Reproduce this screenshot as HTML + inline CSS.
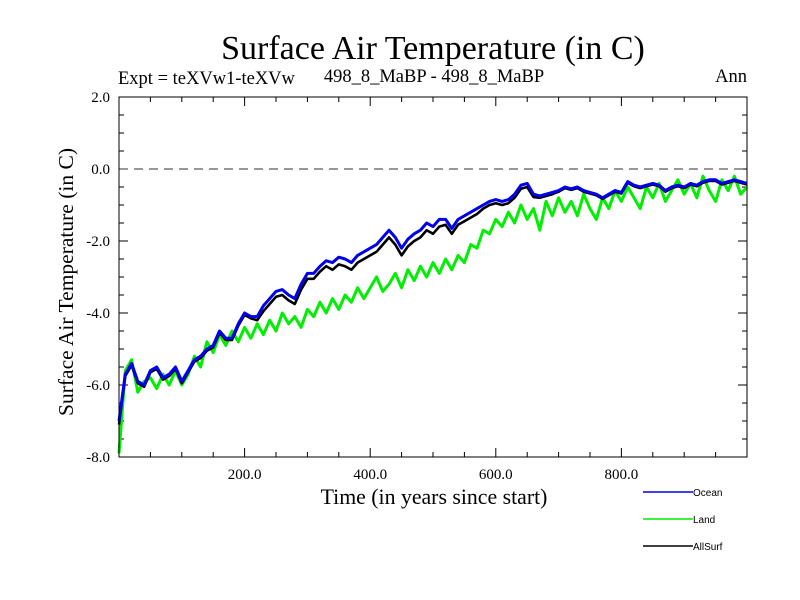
<!DOCTYPE html>
<html><head><meta charset="utf-8"><style>
body{margin:0;background:#fff}
svg{display:block}
text{font-family:"Liberation Serif",serif;fill:#000}
</style></head><body>
<svg id="chart" width="800" height="600" viewBox="0 0 800 600">
<rect width="800" height="600" fill="#fff"/>
<text x="433" y="59" font-size="34" text-anchor="middle">Surface Air Temperature (in C)</text>
<text x="118" y="84" font-size="18.5">Expt = teXVw1-teXVw</text>
<text x="434" y="82" font-size="18.5" text-anchor="middle">498_8_MaBP - 498_8_MaBP</text>
<text x="747" y="82" font-size="18.5" text-anchor="end">Ann</text>
<text transform="translate(73,282) rotate(-90)" font-size="21.5" text-anchor="middle">Surface Air Temperature (in C)</text>
<text x="434" y="504" font-size="21.8" text-anchor="middle">Time (in years since start)</text>
<g id="ticks"></g>
<g id="series"></g>
<rect x="119" y="97" width="628" height="360" fill="none" stroke="#000" stroke-width="1"/>
<g id="legend"></g>
</svg>
<script>
const years = [];
for (let y = 0; y <= 1000; y += 10) years.push(y);
const ocean = [-7.0,-5.7,-5.4,-5.9,-6.0,-5.6,-5.5,-5.8,-5.7,-5.5,
-5.9,-5.6,-5.3,-5.2,-5.0,-4.9,-4.5,-4.7,-4.7,-4.3,
-4.0,-4.1,-4.1,-3.8,-3.6,-3.4,-3.35,-3.5,-3.6,-3.2,
-2.9,-2.9,-2.7,-2.55,-2.6,-2.45,-2.5,-2.6,-2.4,-2.3,
-2.2,-2.1,-1.9,-1.7,-1.9,-2.2,-1.95,-1.8,-1.7,-1.5,
-1.6,-1.4,-1.4,-1.65,-1.4,-1.3,-1.2,-1.1,-1.0,-0.9,
-0.85,-0.9,-0.85,-0.7,-0.45,-0.4,-0.7,-0.75,-0.7,-0.65,
-0.6,-0.5,-0.55,-0.5,-0.6,-0.65,-0.7,-0.8,-0.7,-0.6,
-0.65,-0.35,-0.45,-0.5,-0.45,-0.4,-0.45,-0.6,-0.5,-0.45,
-0.5,-0.4,-0.45,-0.35,-0.3,-0.3,-0.4,-0.35,-0.3,-0.35,-0.4];
const land = [-7.9,-5.6,-5.3,-6.2,-5.9,-5.8,-6.1,-5.7,-6.0,-5.6,
-6.0,-5.7,-5.2,-5.5,-4.8,-5.1,-4.6,-4.9,-4.5,-4.8,
-4.4,-4.7,-4.3,-4.6,-4.2,-4.5,-4.0,-4.3,-4.1,-4.4,
-3.9,-4.1,-3.7,-4.0,-3.6,-3.9,-3.5,-3.7,-3.3,-3.6,
-3.3,-3.0,-3.4,-3.2,-2.9,-3.3,-2.8,-3.1,-2.7,-3.0,
-2.6,-2.9,-2.5,-2.8,-2.4,-2.6,-2.1,-2.2,-1.7,-1.8,
-1.4,-1.6,-1.2,-1.5,-1.0,-1.4,-1.1,-1.7,-0.9,-1.3,
-0.8,-1.2,-0.9,-1.3,-0.7,-1.1,-1.4,-0.8,-1.1,-0.6,
-0.9,-0.5,-0.8,-1.1,-0.5,-0.8,-0.4,-0.9,-0.6,-0.3,
-0.7,-0.4,-0.8,-0.2,-0.6,-0.9,-0.3,-0.6,-0.2,-0.7,-0.5];
const allSurf = [-7.1,-5.75,-5.45,-5.95,-6.05,-5.65,-5.55,-5.85,-5.75,-5.55,
-5.95,-5.65,-5.35,-5.25,-5.05,-4.95,-4.55,-4.75,-4.75,-4.35,
-4.05,-4.15,-4.2,-3.95,-3.75,-3.55,-3.5,-3.65,-3.75,-3.35,
-3.05,-3.05,-2.85,-2.7,-2.8,-2.65,-2.7,-2.8,-2.6,-2.5,
-2.4,-2.3,-2.1,-1.9,-2.1,-2.4,-2.15,-2.0,-1.9,-1.7,
-1.8,-1.6,-1.55,-1.8,-1.55,-1.45,-1.35,-1.25,-1.1,-1.0,
-0.95,-1.0,-0.95,-0.8,-0.55,-0.5,-0.78,-0.8,-0.75,-0.7,
-0.63,-0.53,-0.58,-0.53,-0.63,-0.68,-0.73,-0.83,-0.73,-0.63,
-0.68,-0.38,-0.48,-0.53,-0.48,-0.43,-0.48,-0.63,-0.53,-0.48,
-0.53,-0.43,-0.48,-0.38,-0.33,-0.33,-0.43,-0.38,-0.33,-0.38,-0.43];
const xTickLabels = ["200.0","400.0","600.0","800.0"];
const xTickValues = [200,400,600,800];
const yTickLabels = ["2.0","0.0","-2.0","-4.0","-6.0","-8.0"];
const yTickValues = [2,0,-2,-4,-6,-8];

const X0=119,X1=747,Y0=97,Y1=457;
const xs = v => X0 + (v-0)/(1000-0)*(X1-X0);
const ys = v => Y0 + (2-v)/(2-(-8))*(Y1-Y0);
const NS="http://www.w3.org/2000/svg";
function mk(tag, attrs, parent){const e=document.createElementNS(NS,tag);for(const k in attrs)e.setAttribute(k,attrs[k]);parent.appendChild(e);return e;}
const tg=document.getElementById('ticks');
for(let v=50;v<1000;v+=50){
  const major=v%200===0, len=major?9:5;
  const t1=mk('line',{x1:xs(v),x2:xs(v),y1:Y1,y2:Y1-len,stroke:'#000'},tg);
  
  
  const t2=mk('line',{x1:xs(v),x2:xs(v),y1:Y0,y2:Y0+len,stroke:'#000'},tg);
  
  
}
for(let v=-7.5;v<2;v+=0.5){
  const major=Math.abs(v%2)<1e-9, len=major?9:5;
  const t1=mk('line',{x1:X0,x2:X0+len,y1:ys(v),y2:ys(v),stroke:'#000'},tg);
  
  
  const t2=mk('line',{x1:X1,x2:X1-len,y1:ys(v),y2:ys(v),stroke:'#000'},tg);
  
  
}
xTickValues.forEach((v,i)=>{
  const t=mk('text',{x:xs(v),y:Y1+22,'font-size':15,'text-anchor':'middle'},tg);
  t.textContent=xTickLabels[i];
  
  
});
yTickValues.forEach((v,i)=>{
  const t=mk('text',{x:X0-9,y:ys(v)+5,'font-size':15,'text-anchor':'end'},tg);
  t.textContent=yTickLabels[i];
  
  
});
const zl=mk('line',{x1:X0,x2:X1,y1:ys(0),y2:ys(0),stroke:'#777','stroke-width':1.5,'stroke-dasharray':'9,6'},tg);



const sg=document.getElementById('series');
function line(vals,color,name,w){
  const d=vals.map((v,i)=>(i?'L':'M')+xs(years[i]).toFixed(1)+','+ys(v).toFixed(1)).join('');
  const p=mk('path',{d:d,fill:'none',stroke:color,'stroke-width':w,'stroke-linejoin':'round'},sg);
  
  
}
line(land,'#00ee00','land-line',3);
line(allSurf,'#000','allsurf-line',2.6);
line(ocean,'#0000ee','ocean-line',3);

const lg=document.getElementById('legend');
[['Ocean','#0000ee',492,'legend-ocean'],['Land','#00ee00',519,'legend-land'],['AllSurf','#000',546,'legend-allsurf']].forEach(a=>{
  const g=mk('g',{},lg);
  
  
  mk('line',{x1:643,x2:693,y1:a[2],y2:a[2],stroke:a[1],'stroke-width':1.5},g);
  const t=mk('text',{x:693,y:a[2]+4,'font-size':10,style:'font-family:"Liberation Sans",sans-serif'},g);
  t.textContent=a[0];
});
</script>
</body></html>
